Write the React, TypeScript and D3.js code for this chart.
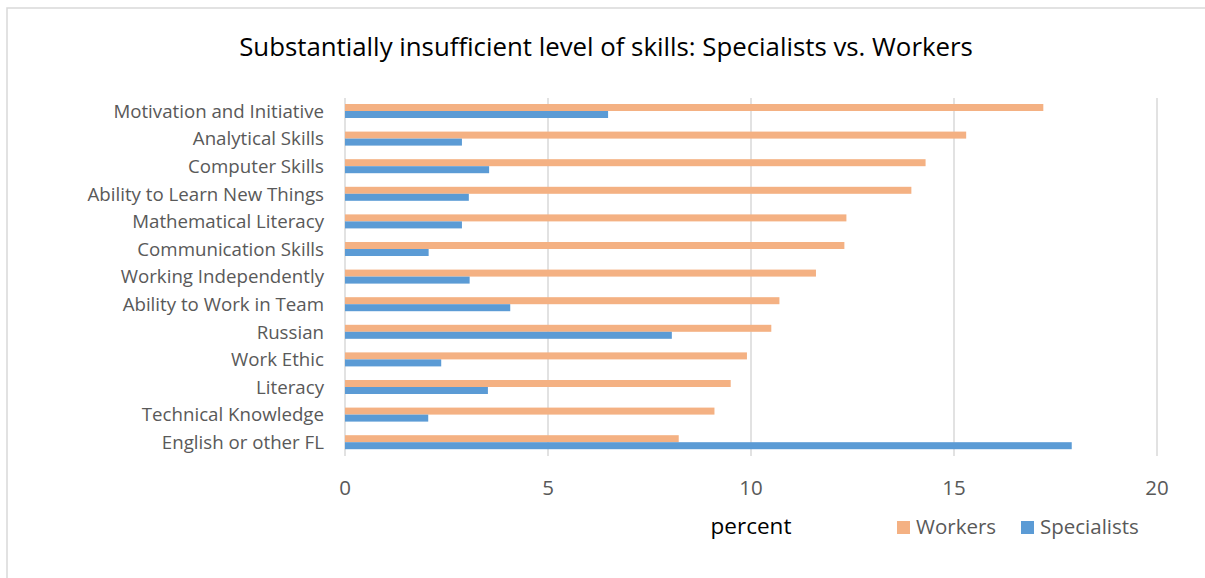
import React from "react";
import * as d3 from "d3";

// Skill categories, top to bottom
const categories = [
  "Motivation and Initiative",
  "Analytical Skills",
  "Computer Skills",
  "Ability to Learn New Things",
  "Mathematical Literacy",
  "Communication Skills",
  "Working Independently",
  "Ability to Work in Team",
  "Russian",
  "Work Ethic",
  "Literacy",
  "Technical Knowledge",
  "English or other FL",
];

// Share (%) reporting a substantially insufficient level of each skill
const workers = [17.2, 15.3, 14.3, 13.95, 12.35, 12.3, 11.6, 10.7, 10.5, 9.9, 9.5, 9.1, 8.22];
const specialists = [6.48, 2.88, 3.55, 3.05, 2.88, 2.06, 3.07, 4.07, 8.05, 2.37, 3.52, 2.05, 17.9];

const seriesNames = ["Workers", "Specialists"];
const seriesColors = ["#F4B183", "#5B9BD5"];
const xTicks = [0, 5, 10, 15, 20];

const W = 1205;
const H = 578;
const FONT = "'Open Sans', Lato, sans-serif";

export default function App() {
  const x = d3.scaleLinear().domain([0, 20]).range([345, 1157]);
  const y = d3.scaleBand<string>().domain(categories).range([97.2, 456]).padding(0);
  const sub = d3
    .scaleBand<string>()
    .domain(seriesNames)
    .range([0, y.bandwidth()])
    .paddingInner(0)
    .paddingOuter(0.97);

  const values = [workers, specialists];
  const [plotTop, plotBottom] = [98, 456];

  return (
    <svg
      width={W}
      height={H}
      style={{ position: "absolute", left: 0, top: 0, background: "#fff" }}
      fontFamily={FONT}
    >
      {/* chart frame */}
      <rect x={7} y={8} width={1400} height={800} fill="#fff" stroke="#d9d9d9" strokeWidth={1.5} />

      <text x={606} y={56} textAnchor="middle" fontSize={25.8} fill="#000">
        Substantially insufficient level of skills: Specialists vs. Workers
      </text>

      {/* vertical gridlines */}
      {xTicks.map((t) => (
        <line
          key={t}
          x1={x(t)}
          x2={x(t)}
          y1={plotTop}
          y2={plotBottom}
          stroke="#d9d9d9"
          strokeWidth={1.5}
        />
      ))}

      {/* bars */}
      {categories.map((c, i) =>
        seriesNames.map((s, k) => (
          <rect
            key={c + s}
            x={x(0)}
            y={(y(c) as number) + (sub(s) as number)}
            width={x(values[k][i]) - x(0)}
            height={sub.bandwidth()}
            fill={seriesColors[k]}
          />
        ))
      )}

      {/* category labels */}
      {categories.map((c) => (
        <text
          key={c}
          x={324}
          y={(y(c) as number) + y.bandwidth() / 2}
          dy="0.36em"
          textAnchor="end"
          fontSize={18.7}
          fill="#595959"
        >
          {c}
        </text>
      ))}

      {/* x tick labels */}
      {xTicks.map((t) => (
        <text key={t} x={x(t)} y={495} textAnchor="middle" fontSize={20.5} fill="#595959">
          {t}
        </text>
      ))}

      <text x={751} y={534} textAnchor="middle" fontSize={22.5} fill="#000">
        percent
      </text>

      {/* legend */}
      {seriesNames.map((s, k) => {
        const lx = [897, 1021][k];
        return (
          <g key={s}>
            <rect x={lx} y={521} width={13} height={13} fill={seriesColors[k]} />
            <text x={lx + 19} y={534} fontSize={20.5} fill="#595959">
              {s}
            </text>
          </g>
        );
      })}
    </svg>
  );
}
